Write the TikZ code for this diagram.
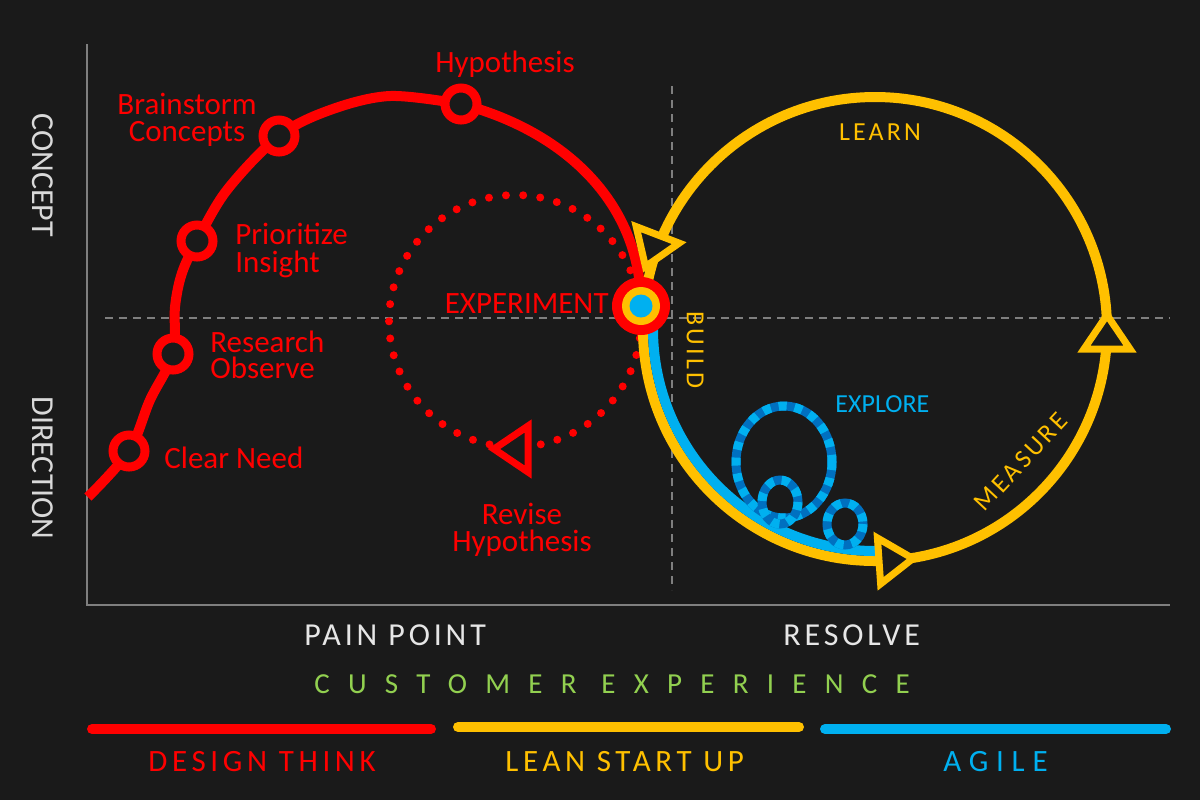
\documentclass[tikz,border=0pt]{standalone}
\usepackage{fontspec}
\setmainfont{Carlito}
\newfontfamily\spA{Carlito}[LetterSpace=12]
\newfontfamily\spL{Carlito}[LetterSpace=15]
\newfontfamily\spB{Carlito}[LetterSpace=25]
\newfontfamily\spC{Carlito}[LetterSpace=63]
\usetikzlibrary{calc}
\definecolor{bg}{HTML}{1A1A1A}
\definecolor{dtred}{HTML}{FF0000}
\definecolor{lsyellow}{HTML}{FFC000}
\definecolor{agblue}{HTML}{00B0F0}
\definecolor{agdark}{HTML}{0070C0}
\definecolor{axisgray}{HTML}{7F7F7F}
\definecolor{lightgray}{HTML}{D9D9D9}
\definecolor{xlgray}{HTML}{E6E6E6}
\definecolor{cxgreen}{HTML}{92D050}
\newcommand{\flowtri}[3]{%
  \begin{scope}[shift={(#1)},rotate=#2]
    \draw[draw=#3, fill=bg, line width=3.5pt, miter limit=10] (21,0) -- (-13,23) -- (-13,-23) -- cycle;
  \end{scope}}
\begin{document}
\begin{tikzpicture}[x=0.5pt,y=-0.5pt,
  axisline/.style={axisgray, line width=1pt},
  gridline/.style={axisgray, line width=1pt, dash pattern=on 4pt off 3pt},
  ringnode/.style={circle, draw=dtred, fill=bg, line width=4.5pt, minimum size=16pt, inner sep=0pt},
  lbl/.style={inner sep=0pt, text=dtred, font=\fontsize{15.5}{18}\selectfont},
  ylbl/.style={inner sep=0pt, text=lsyellow, font=\spA\fontsize{13}{15}\selectfont},
  blbl/.style={inner sep=0pt, text=agblue, font=\fontsize{13}{15}\selectfont},
  axlbl/.style={inner sep=0pt, text=lightgray, font=\fontsize{16}{18}\selectfont},
  xlbl/.style={inner sep=0pt, text=xlgray, font=\spA\fontsize{16}{18}\selectfont},
  leglbl/.style={inner sep=0pt, font=\spL\fontsize{15.5}{18}\selectfont},
  bar/.style={line width=5pt, line cap=round}
]
\useasboundingbox (0,0) rectangle (1200,800);
\fill[bg] (0,0) rectangle (1200,800);

% axes and grid
\coordinate (ytop) at (87,44);
\coordinate (orig) at (87,605);
\coordinate (xend) at (1170,605);
\draw[axisline] (ytop) -- (orig) -- (xend);
\coordinate (hl) at (105,318);
\coordinate (hr) at (1170,318);
\draw[gridline] (hl) -- (hr);
\coordinate (vt) at (672,86);
\coordinate (vb) at (672,590);
\draw[gridline] (vt) -- (vb);

% dotted revise loop
\coordinate (dc) at (515,321);
\draw[dtred, line width=4pt, line cap=round, dash pattern=on 0pt off 8.6pt] (dc) circle[radius=126];

% red design-thinking curve
\coordinate (p0) at (88,497);
\coordinate (pclear) at (129,451);
\coordinate (pres) at (173,354);
\coordinate (pprio) at (197,241);
\coordinate (pbrain) at (279,136);
\coordinate (phyp) at (461,104);
\coordinate (pexp) at (641,306);
\draw[dtred, line width=5pt] plot[smooth, tension=0.55] coordinates {
  (p0) (pclear) (150,400) (pres) (175,307) (182,273) (pprio) (227,190) (pbrain)
  (330,110) (390,96) (phyp)};
\draw[dtred, line width=5pt] (phyp) .. controls (561,130) and (641,200) .. (pexp);

% yellow lean loop
\coordinate (yc) at (875,329);
\draw[lsyellow, line width=5pt] (yc) circle[radius=232];

% blue agile track
\draw[agblue, line width=5pt] ($(yc)+(180:222)$) arc[start angle=180, end angle=88, radius=222];

% explore loops
\foreach \cx/\cy/\rx/\ry in {784/462/48/56, 780/502/18/22, 845/524/18/21}{
  \draw[agdark, line width=4.5pt] (\cx,\cy) ellipse[x radius=\rx, y radius=\ry];
  \draw[agblue, line width=4.5pt, dash pattern=on 4pt off 4pt] (\cx,\cy) ellipse[x radius=\rx, y radius=\ry];
}

% arrow triangles
\flowtri{1107,336}{90}{lsyellow}
\flowtri{892,560}{4}{lsyellow}
\flowtri{653,247}{249}{lsyellow}
\flowtri{515,449}{180}{dtred}

% markers
\node[ringnode] (clear) at (pclear) {};
\node[ringnode] (research) at (pres) {};
\node[ringnode] (prior) at (pprio) {};
\node[ringnode] (brainst) at (pbrain) {};
\node[ringnode] (hypoth) at (phyp) {};

% experiment hub
\node[circle, fill=dtred, minimum size=29pt, inner sep=0pt] (exp) at (pexp) {};
\node[circle, fill=lsyellow, minimum size=19pt, inner sep=0pt] (expy) at (exp) {};
\node[circle, fill=agblue, minimum size=11.5pt, inner sep=0pt] (expb) at (exp) {};

% red labels
\node[lbl, anchor=base] (hyp) at (505,72) {Hypothesis};
\node[lbl, anchor=base] (brain) at (187,114) {Brainstorm};
\node[lbl, anchor=base] (conc) at (187,141) {Concepts};
\node[lbl, anchor=base west] (prio) at (235,244) {Prioritize};
\node[lbl, anchor=base west] (ins) at (235,272) {Insight};
\node[lbl, anchor=base west] (res) at (210,352) {Research};
\node[lbl, anchor=base west] (obs) at (210,378) {Observe};
\node[lbl, anchor=base west] (clr) at (164,468) {Clear Need};
\node[lbl, anchor=base east] (explbl) at (609,313) {EXPERIMENT};
\node[lbl, anchor=base] (rev1) at (522,524) {Revise};
\node[lbl, anchor=base] (rev2) at (522,551) {Hypothesis};

% yellow / blue labels
\node[ylbl] (learn) at (880,132) {LEARN};
\node[ylbl, rotate=-90] (build) at (695,350) {BUILD};
\node[ylbl, rotate=47] (meas) at (1021,462) {MEASURE};
\node[blbl, anchor=base west] (explore) at (835,412) {EXPLORE};

% axis labels
\node[axlbl, rotate=-90] (concept) at (43,175) {CONCEPT};
\node[axlbl, rotate=-90] (direction) at (43,468) {DIRECTION};
\node[xlbl, anchor=base west] (pain) at (304,645) {PAIN POINT};
\node[xlbl, anchor=base west] (resolve) at (783,645) {RESOLVE};
\node[inner sep=0pt, text=cxgreen, font=\spC\fontsize{14.5}{17}\selectfont, anchor=base west] (cx) at (314,693) {CUSTOMER EXPERIENCE};

% legend
\coordinate (r1) at (92,729); \coordinate (r2) at (431,729);
\coordinate (y1) at (458,727); \coordinate (y2) at (799,727);
\coordinate (b1) at (825,729); \coordinate (b2) at (1166,729);
\draw[bar, dtred] (r1) -- (r2);
\draw[bar, lsyellow] (y1) -- (y2);
\draw[bar, agblue] (b1) -- (b2);
\node[leglbl, text=dtred, anchor=base west] (dt) at (148,771) {DESIGN THINK};
\node[leglbl, text=lsyellow, anchor=base west] (ls) at (505,771) {LEAN START UP};
\node[inner sep=0pt, text=agblue, font=\spB\fontsize{15.5}{18}\selectfont, anchor=base west] (ag) at (943,771) {AGILE};
\end{tikzpicture}
\end{document}
